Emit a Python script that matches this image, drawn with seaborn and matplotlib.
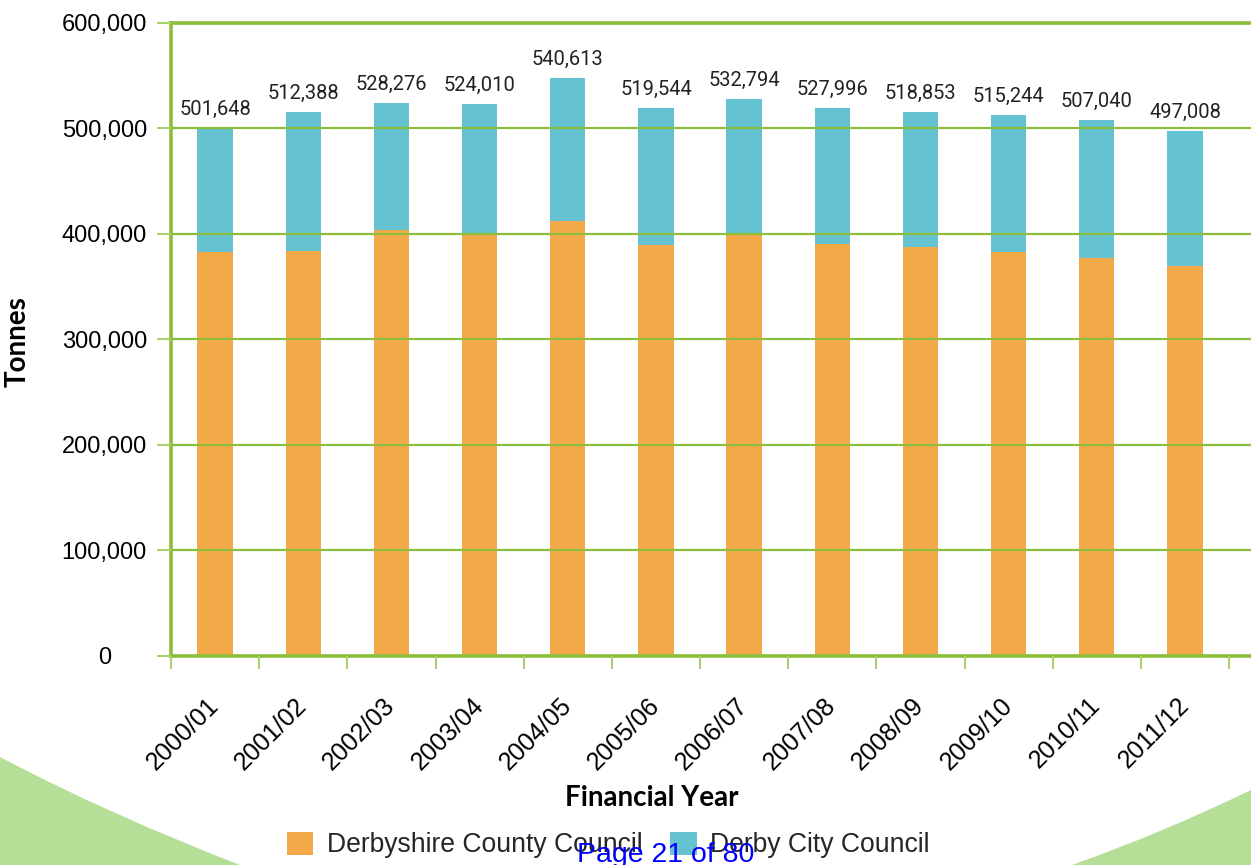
import numpy as np
import pandas as pd
import matplotlib
matplotlib.use("Agg")
import matplotlib.pyplot as plt
import seaborn as sns
from matplotlib.patches import Patch, PathPatch
from matplotlib.path import Path
from matplotlib.ticker import FixedLocator, FuncFormatter

# ---- data ----
years = ["2000/01", "2001/02", "2002/03", "2003/04", "2004/05", "2005/06",
         "2006/07", "2007/08", "2008/09", "2009/10", "2010/11", "2011/12"]
county = [383000, 383600, 403800, 399400, 412000, 389300,
          400400, 390500, 387400, 383000, 377300, 369700]
city = [117500, 131700, 120000, 123500, 135600, 129800,
        127300, 128600, 127900, 129500, 130500, 127600]
total_labels = ["501,648", "512,388", "528,276", "524,010", "540,613", "519,544",
                "532,794", "527,996", "518,853", "515,244", "507,040", "497,008"]
series_names = ["Derbyshire County Council", "Derby City Council"]
y_ticks = [0, 100000, 200000, 300000, 400000, 500000, 600000]

ORANGE = "#F4A948"
TEAL = "#65C2D0"
GREEN = "#8CBE3C"
LIGHT_GREEN = "#A9D16E"
DECOR = "#B5DE96"

sns.set_theme(style="white")
plt.rcParams['font.family'] = ['Liberation Sans', 'DejaVu Sans']

W, H = 1251, 865
fig = plt.figure(figsize=(W / 100, H / 100), dpi=100)
fig.patch.set_facecolor("white")

def fx(x):
    return x / W
def fy(y):
    return 1 - y / H

# decorative green shapes at the bottom
left_path = Path([(fx(0), fy(757)), (fx(110), fy(815)), (fx(240), fy(865)),
                  (fx(0), fy(865)), (fx(0), fy(757))],
                 [Path.MOVETO, Path.CURVE3, Path.CURVE3, Path.LINETO, Path.CLOSEPOLY])
right_path = Path([(fx(1072), fy(865)), (fx(1165), fy(832)), (fx(1251), fy(790)),
                   (fx(1251), fy(865)), (fx(1072), fy(865))],
                  [Path.MOVETO, Path.CURVE3, Path.CURVE3, Path.LINETO, Path.CLOSEPOLY])
for p in (left_path, right_path):
    fig.patches.append(PathPatch(p, facecolor=DECOR, edgecolor="none",
                                 transform=fig.transFigure, zorder=-5))

ax_left, ax_right = 171, 1251
ax_top, ax_bottom = 22.7, 655.7
ax = fig.add_axes([ax_left / W, 1 - ax_bottom / H, (ax_right - ax_left) / W,
                   (ax_bottom - ax_top) / H])
ax.patch.set_visible(False)

df = pd.DataFrame({"year": years, "county": county, "city": city})
df["top"] = df["county"] + df["city"]

sns.barplot(data=df, x="year", y="top", color=TEAL, saturation=1, width=0.4,
            linewidth=0, ax=ax, zorder=1)
sns.barplot(data=df, x="year", y="county", color=ORANGE, saturation=1, width=0.4,
            linewidth=0, ax=ax, zorder=1)

# value labels
for i, (t, lab) in enumerate(zip(df["top"], total_labels)):
    ax.annotate(lab, (i, t), xytext=(0, 6.5), textcoords="offset points",
                ha="center", va="bottom", fontsize=14.5, family="Roboto",
                color="#222222")

# axes styling
step = 88.17
ax.set_xlim(-0.5, -0.5 + (ax_right - ax_left) / step)
ax.set_ylim(0, 600000)
ax.set_yticks(y_ticks)
ax.yaxis.set_major_formatter(FuncFormatter(lambda v, p: f"{v:,.0f}"))
ax.set_axisbelow(False)
ax.yaxis.grid(True, color=GREEN, linewidth=1.6, zorder=2)
ax.xaxis.grid(False)

for s in ("left", "top", "bottom"):
    ax.spines[s].set_color(GREEN)
    ax.spines[s].set_linewidth(2.6)
ax.spines["right"].set_visible(False)

ax.set_xticks(range(len(years)))
ax.set_xticklabels(years)
ax.xaxis.set_minor_locator(FixedLocator(np.arange(-0.5, len(years), 1.0)))
ax.tick_params(axis="x", which="major", length=0, pad=33, labelsize=18,
               labelcolor="black")
ax.tick_params(axis="x", which="minor", length=9.4, width=1.5, color=LIGHT_GREEN,
               direction="out", bottom=True)
for lbl in ax.get_xticklabels():
    lbl.set_rotation(45)
    lbl.set_ha("right")
    lbl.set_va("center")
    lbl.set_rotation_mode("anchor")

ax.tick_params(axis="y", which="major", length=10, width=1.5, color=LIGHT_GREEN,
               direction="out", left=True, pad=38, labelsize=17, labelcolor="black")
for lbl in ax.get_yticklabels():
    lbl.set_ha("center")

ax.set_xlabel("")
ax.set_ylabel("")

fig.text(18 / W, fy(342), "Tonnes", rotation=90, ha="center", va="center",
         family="Lato", fontweight="bold", fontsize=20, color="black")
fig.text(652 / W, fy(798), "Financial Year", ha="center", va="center",
         family="Lato", fontweight="bold", fontsize=20, color="black")

handles = [Patch(facecolor=ORANGE, edgecolor="none"), Patch(facecolor=TEAL, edgecolor="none")]
fig.legend(handles=handles, labels=series_names, loc="center",
           bbox_to_anchor=(608 / W, fy(845)), ncol=2, frameon=False, fontsize=19.1,
           handlelength=1.0, handleheight=1.0, handletextpad=0.5, columnspacing=1.05,
           borderpad=0, borderaxespad=0)

fig.text(577 / W, fy(862), "Page 21 of 80", color="#0000FF", fontsize=20.5,
         ha="left", va="baseline", zorder=10)

fig.savefig("out.png", dpi=100, facecolor="white")
